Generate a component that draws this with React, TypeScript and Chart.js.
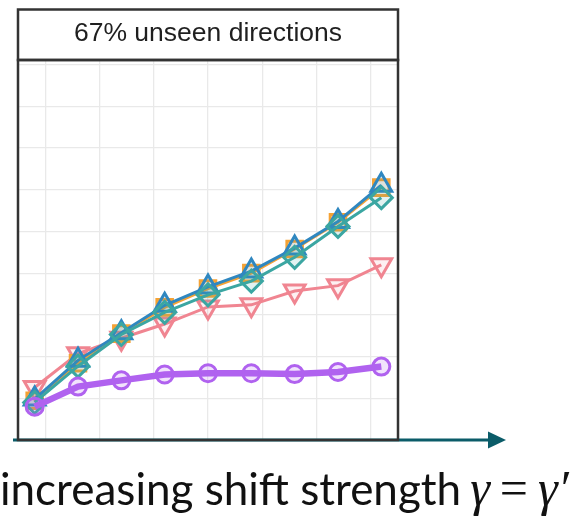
import React, { useEffect, useRef } from "react";
import { Chart, registerables } from "chart.js";

Chart.register(...registerables);

// ---- data ----
const shiftLevels = [1, 2, 3, 4, 5, 6, 7, 8, 9];
const purpleValues = [0.8, 1.28, 1.43, 1.57, 1.6, 1.6, 1.58, 1.63, 1.76];
const pinkValues = [1.26, 2.07, 2.44, 2.78, 3.19, 3.24, 3.57, 3.7, 4.2];
const blueValues = [0.98, 1.91, 2.57, 3.23, 3.67, 4.05, 4.6, 5.24, 6.11];
const orangeValues = [0.94, 1.84, 2.55, 3.18, 3.63, 4.0, 4.58, 5.22, 6.05];
const tealValues = [0.9, 1.77, 2.53, 3.06, 3.48, 3.81, 4.38, 5.12, 5.81];
const gridTicksX = [1.25, 2.5, 3.75, 5, 6.25, 7.5, 8.75];
const gridTicksY = [1, 2, 3, 4, 5, 6, 7, 8, 9];
const panelTitle = "67% unseen directions";
const axisLabel = "increasing shift strength";

const toPoints = (vals: number[]) => vals.map((v, i) => ({ x: shiftLevels[i], y: v }));

const panelPlugin = {
  id: "panelFrame",
  afterDraw(chart: any) {
    const { ctx, chartArea: a } = chart;
    ctx.save();
    // arrow
    ctx.strokeStyle = "#0b5c69";
    ctx.fillStyle = "#0b5c69";
    ctx.lineWidth = 3;
    ctx.beginPath();
    ctx.moveTo(a.left - 5, a.bottom);
    ctx.lineTo(a.right + 92, a.bottom);
    ctx.stroke();
    ctx.beginPath();
    ctx.moveTo(a.right + 90, a.bottom - 8.5);
    ctx.lineTo(a.right + 108, a.bottom);
    ctx.lineTo(a.right + 90, a.bottom + 8.5);
    ctx.closePath();
    ctx.fill();
    // frames
    ctx.strokeStyle = "#333333";
    ctx.lineWidth = 2.5;
    ctx.strokeRect(a.left, a.top, a.right - a.left, a.bottom - a.top);
    ctx.strokeRect(a.left, 9.5, a.right - a.left, a.top - 9.5);
    ctx.restore();
  },
};

function ds(label: string, vals: number[], color: string, fill: string, style: string, radius: number, lineWidth: number, rotation = 0) {
  return {
    label,
    data: toPoints(vals),
    borderColor: color,
    backgroundColor: fill,
    borderWidth: lineWidth,
    pointStyle: style,
    pointRadius: radius,
    pointRotation: rotation,
    pointBorderWidth: 3,
    pointBorderColor: color,
    pointBackgroundColor: fill,
    tension: 0,
    fill: false,
  };
}

const mathFont = "'Liberation Serif', 'DejaVu Serif', serif";

export default function App() {
  const ref = useRef<HTMLCanvasElement>(null);
  useEffect(() => {
    if (!ref.current) return;
    const chart = new Chart(ref.current, {
      type: "line",
      data: {
        datasets: [
          ds("purple", purpleValues, "#b062ef", "rgba(176,98,239,0.18)", "circle", 8.5, 6.5),
          ds("teal", tealValues, "#3ba6a2", "rgba(59,166,162,0.15)", "rectRot", 11, 3),
          ds("blue", blueValues, "#2f87c0", "rgba(47,135,192,0.15)", "triangle", 12, 3),
          ds("orange", orangeValues, "#f5a234", "rgba(245,162,52,0.15)", "rect", 11, 3),
          ds("pink", pinkValues, "#f08591", "rgba(240,133,145,0.12)", "triangle", 12, 3, 180),
        ] as any,
      },
      options: {
        animation: false,
        responsive: false,
        layout: { padding: { left: 18, right: 182, top: 9, bottom: 83 } },
        plugins: {
          legend: { display: false },
          tooltip: { enabled: false },
          title: {
            display: true,
            text: panelTitle,
            color: "#1f1f1f",
            font: { family: "'Liberation Sans', Arial, sans-serif", size: 26.5, weight: "normal" as any },
            padding: { top: 9.2, bottom: 10.0 },
          },
        },
        scales: {
          x: {
            type: "linear",
            min: 0.615,
            max: 9.385,
            afterBuildTicks: (s: any) => {
              s.ticks = gridTicksX.map((v) => ({ value: v }));
            },
            ticks: { display: false },
            grid: { color: "#e9e9e9", lineWidth: 1.3, drawTicks: false },
            border: { display: false },
          },
          y: {
            type: "linear",
            min: 0,
            max: 9.11,
            afterBuildTicks: (s: any) => {
              s.ticks = gridTicksY.map((v) => ({ value: v }));
            },
            ticks: { display: false },
            grid: { color: "#e9e9e9", lineWidth: 1.3, drawTicks: false },
            border: { display: false },
          },
        },
      },
      plugins: [panelPlugin],
    });
    return () => chart.destroy();
  }, []);

  return (
    <div style={{ position: "fixed", left: 0, top: 0, width: 580, height: 523, overflow: "hidden", background: "#fff" }}>
      <canvas ref={ref} width={580} height={523} style={{ display: "block", position: "absolute", left: 0, top: 0 }} />
      <div
        style={{
          position: "absolute",
          left: 0,
          top: 462,
          whiteSpace: "nowrap",
          fontFamily: "Lato, 'Open Sans', sans-serif",
          fontSize: 44,
          lineHeight: "52.8px",
          color: "#111",
        }}
      >
        {axisLabel}
        <span style={{ fontFamily: mathFont, fontStyle: "italic", fontSize: 50, marginLeft: 9 }}>γ</span>
        <span style={{ fontFamily: mathFont, fontSize: 50, margin: "0 10px" }}>=</span>
        <span style={{ fontFamily: mathFont, fontStyle: "italic", fontSize: 50 }}>γ′</span>
      </div>
    </div>
  );
}
